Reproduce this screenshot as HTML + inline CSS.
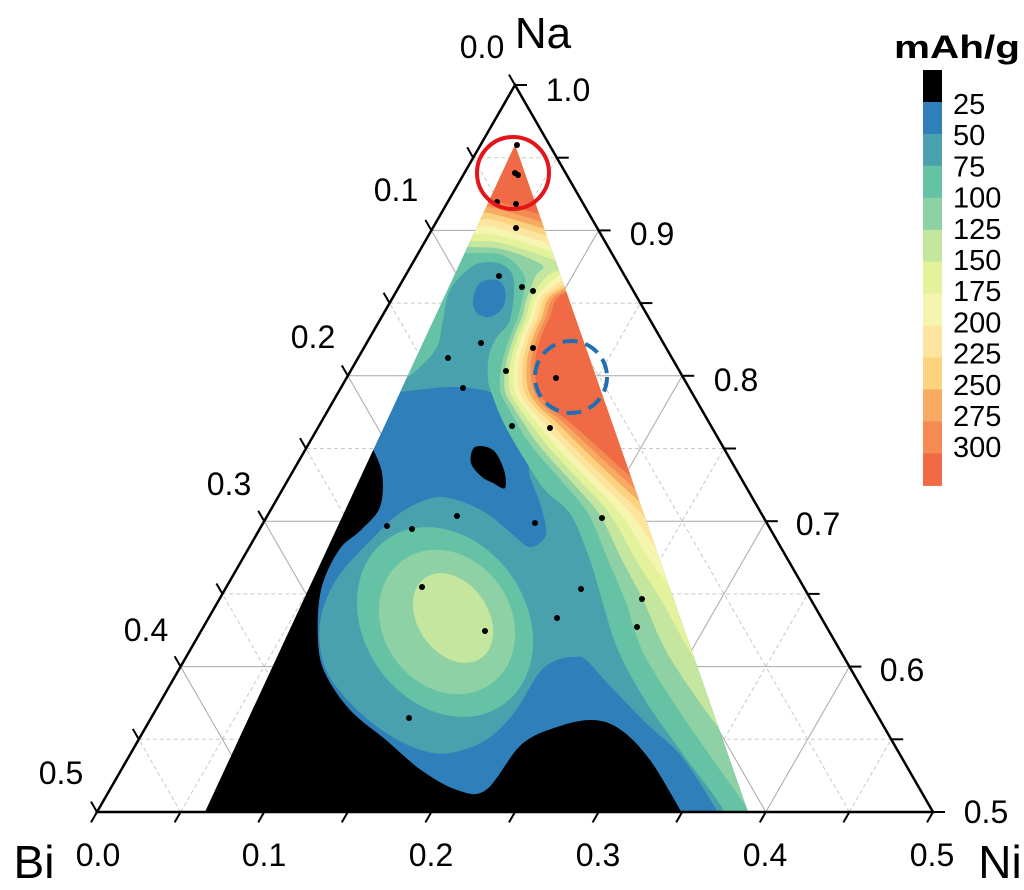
<!DOCTYPE html>
<html><head><meta charset="utf-8"><style>
html,body{margin:0;padding:0;background:#fff;}
svg{display:block;font-family:"Liberation Sans",Arial,sans-serif;}
</style></head><body>
<svg id="s" width="1024" height="890" viewBox="0 0 1024 890" xmlns="http://www.w3.org/2000/svg">
<defs><clipPath id="cp"><polygon points="515,145 748,812 205,812"/></clipPath></defs>
<g id="grid"></g>
<g id="data" clip-path="url(#cp)"></g>
<g id="axes"></g>
<g id="labels" font-size="32" fill="#000">
<text x="482" y="58" text-anchor="middle">0.0</text>
<text x="396" y="201" text-anchor="middle">0.1</text>
<text x="313" y="348" text-anchor="middle">0.2</text>
<text x="229" y="495" text-anchor="middle">0.3</text>
<text x="146" y="641" text-anchor="middle">0.4</text>
<text x="61" y="784" text-anchor="middle">0.5</text>
<text x="568" y="101" text-anchor="middle">1.0</text>
<text x="652" y="245" text-anchor="middle">0.9</text>
<text x="736" y="391" text-anchor="middle">0.8</text>
<text x="818" y="535" text-anchor="middle">0.7</text>
<text x="902" y="681" text-anchor="middle">0.6</text>
<text x="986" y="823" text-anchor="middle">0.5</text>
<text x="98" y="866" text-anchor="middle">0.0</text>
<text x="264" y="866" text-anchor="middle">0.1</text>
<text x="431" y="866" text-anchor="middle">0.2</text>
<text x="598" y="866" text-anchor="middle">0.3</text>
<text x="765" y="866" text-anchor="middle">0.4</text>
<text x="932" y="866" text-anchor="middle">0.5</text>
<text x="543" y="48" text-anchor="middle" font-size="44">Na</text>
<text x="34" y="878" text-anchor="middle" font-size="46">Bi</text>
<text x="1000" y="878" text-anchor="middle" font-size="46">Ni</text>
</g>
<g id="legend">
<text x="957" y="58" text-anchor="middle" font-size="32" font-weight="bold" textLength="126" lengthAdjust="spacingAndGlyphs">mAh/g</text>
</g>
<g id="marks"></g>
</svg>
<script>
var NS="http://www.w3.org/2000/svg";
function el(parent,tag,attrs){var e=document.createElementNS(NS,tag);for(var k in attrs)e.setAttribute(k,attrs[k]);document.getElementById(parent).appendChild(e);return e;}
for(var k=1;k<10;k++){
  var t=k/10, dash=(k%2==1)?"4,3":"none", col=(k%2==1)?"#c8c8c8":"#a8a8a8";
  var L=[515-418*t,85+727*t],R=[515+418*t,85+727*t],B=[97+83.6*k,812];
  var R2=[515+418*(k/10),85+727*(k/10)], L2=[515-418*(1-k/10),85+727*(1-k/10)];
  el("grid","line",{x1:L[0],y1:L[1],x2:R[0],y2:R[1],stroke:col,"stroke-width":1,"stroke-dasharray":dash});
  el("grid","line",{x1:B[0],y1:B[1],x2:R2[0],y2:R2[1],stroke:col,"stroke-width":1,"stroke-dasharray":dash});
  el("grid","line",{x1:B[0],y1:B[1],x2:L2[0],y2:L2[1],stroke:col,"stroke-width":1,"stroke-dasharray":dash});
}
function cr(p){var d="";for(var i=0;i<p.length-1;i++){var p0=p[i>0?i-1:i],p1=p[i],p2=p[i+1],p3=p[i+2<p.length?i+2:i+1];
 var c1=[p1[0]+(p2[0]-p0[0])/6,p1[1]+(p2[1]-p0[1])/6],c2=[p2[0]-(p3[0]-p1[0])/6,p2[1]-(p3[1]-p1[1])/6];
 d+=" C"+c1[0].toFixed(1)+","+c1[1].toFixed(1)+" "+c2[0].toFixed(1)+","+c2[1].toFixed(1)+" "+p2[0].toFixed(1)+","+p2[1].toFixed(1);}return d;}
function crClosed(p){var n=p.length,d="M"+p[0][0]+","+p[0][1];for(var i=0;i<n;i++){var p0=p[(i-1+n)%n],p1=p[i],p2=p[(i+1)%n],p3=p[(i+2)%n];
 var c1=[p1[0]+(p2[0]-p0[0])/6,p1[1]+(p2[1]-p0[1])/6],c2=[p2[0]-(p3[0]-p1[0])/6,p2[1]-(p3[1]-p1[1])/6];
 d+=" C"+c1[0].toFixed(1)+","+c1[1].toFixed(1)+" "+c2[0].toFixed(1)+","+c2[1].toFixed(1)+" "+p2[0]+","+p2[1];}return d+"Z";}
function chainPath(pre,chain,post){var d="M"+pre[0][0]+","+pre[0][1];for(var i=1;i<pre.length;i++)d+=" L"+pre[i][0]+","+pre[i][1];
 d+=" L"+chain[0][0]+","+chain[0][1]+cr(chain);for(var j=0;j<post.length;j++)d+=" L"+post[j][0]+","+post[j][1];return d+"Z";}
var C=["#000","#2e7fba","#4aa1ae","#66c2a5","#8dd1a4","#c4e69e","#e3f29b","#f6f5b0","#fde5a0","#fbd27e","#f8aa62","#f48b52","#ef6a45"];
el("data","rect",{x:0,y:0,width:1024,height:890,fill:C[1]});
el("data","path",{fill:"#000",d:chainPath([[200,820],[300,440]],[[371,445],[382,473],[380,507],[361,530],[339,550],[321,590],[318,640],[325,673],[350,710],[386,740],[421,770],[457,790],[486,790],[521,745],[557,727],[593,720],[621,730],[650,760],[682,813]],[[690,830]])});
el("data","path",{fill:"#000",d:crClosed([[475,447],[493,450],[504,470],[505,488],[493,483],[482,477],[471,463]])});
el("data","path",{fill:C[2],d:chainPath([[515,90],[820,860],[720,860]],[[718,812],[682,757],[646,723],[611,687],[586,660],[575,657],[557,660],[539,673],[514,713],[486,740],[450,753],[421,750],[386,733],[350,703],[325,667],[320,623],[336,580],[371,540],[400,513],[432,498],[457,500],[486,513],[511,533],[529,547],[543,540],[546,527],[539,500],[529,473],[530,447],[520,420],[507,400],[483,390],[450,387],[417,390],[393,393],[370,395]],[[300,395],[300,90]])});
el("data","path",{fill:C[1],d:crClosed([[480,283],[497,280],[505,290],[503,307],[490,317],[477,313],[473,300]])});
el("data","path",{fill:C[3],d:chainPath([[300,60],[300,385]],[[380,384],[405,378],[420,367],[437,347],[443,320],[450,290],[470,268],[487,262],[505,266],[514,282],[510,320],[497,337],[489,355],[488,380],[493,397],[500,415],[510,435],[525,460],[545,490],[571,515],[590,560],[602,600],[618,650],[645,700],[680,750],[725,812],[740,850]],[[1000,860],[1000,60]])});
function ell(cx,cy,a,b,col){el("data","ellipse",{cx:cx,cy:cy,rx:a,ry:b,fill:col,transform:"rotate(55 "+cx+" "+cy+")"});}
ell(445,622,101,81,C[3]);
var ys=[265,275,290,300,317,337,363,390,407,420,440,460,485,515,560,600,650,700,750,812,850];
var X1=[521,524,524,522,518,510,502,500,508,515,527,543,565,589,608,625,642,672,706,750,775];
var X9=[690,620,572,556,550,541,535,538,550,567,590,612,640,675,720,770,830,880,940,1000,1040];
var yT=[252,246,240,233,226,219,213,207,200];
for(var i=0;i<9;i++){
  var lv=4+i, f=i/8, chain=[[380,yT[i]],[470,yT[i]+1],[505,yT[i]+4]];
  for(var j=0;j<ys.length;j++){ if(ys[j]<yT[i]+18) continue; chain.push([X1[j]+(X9[j]-X1[j])*f, ys[j]]); }
  el("data","path",{fill:C[lv],d:chainPath([[300,40],[300,yT[i]]],chain,[[1100,870],[1100,40]])});
  if(lv==4) ell(447,622,76,64,C[4]);
  if(lv==5) ell(453,618,49,35,C[5]);
}
el("axes","polygon",{points:"515,85 933,812 97,812",fill:"none",stroke:"#000","stroke-width":2.5,"stroke-linejoin":"miter"});
for(var k=0;k<=10;k++){var t=k/10,Lt=12;
  var P=[515-418*t,85+727*t]; el("axes","line",{x1:P[0],y1:P[1],x2:P[0]-0.5*Lt,y2:P[1]-0.866*Lt,stroke:"#000","stroke-width":2});
  var Q=[515+418*t,85+727*t]; el("axes","line",{x1:Q[0],y1:Q[1],x2:Q[0]+Lt,y2:Q[1],stroke:"#000","stroke-width":2});
  var B=[97+83.6*k,812]; el("axes","line",{x1:B[0],y1:B[1],x2:B[0]-0.5*Lt,y2:B[1]+0.866*Lt,stroke:"#000","stroke-width":2});
}
for(var i=0;i<13;i++){el("legend","rect",{x:923,y:(70+i*31.95).toFixed(1),width:19,height:32.5,fill:C[i]});}
var labs=["25","50","75","100","125","150","175","200","225","250","275","300"];
for(var i=0;i<12;i++){var t=el("legend","text",{x:953,y:(114+i*31.2).toFixed(1),"font-size":29});t.textContent=labs[i];}
var dots=[[517,145],[515,173],[518,175],[497,202],[516,204],[516,228],[499,276],[522,287],[533,291],[481,343],[533,348],[448,358],[506,371],[556,378],[463,388],[512,426],[550,428],[457,516],[387,526],[412,529],[535,523],[602,518],[422,587],[485,631],[557,618],[581,589],[642,599],[637,627],[409,718]];
dots.forEach(function(p){el("marks","circle",{cx:p[0],cy:p[1],r:3,fill:"#000"});});
el("marks","circle",{cx:513,cy:173,r:36,fill:"none",stroke:"#e3151a","stroke-width":4});
el("marks","circle",{cx:571,cy:377,r:36,fill:"none",stroke:"#1f6fb2","stroke-width":4,"stroke-dasharray":"15,8"});
</script>
</body></html>
